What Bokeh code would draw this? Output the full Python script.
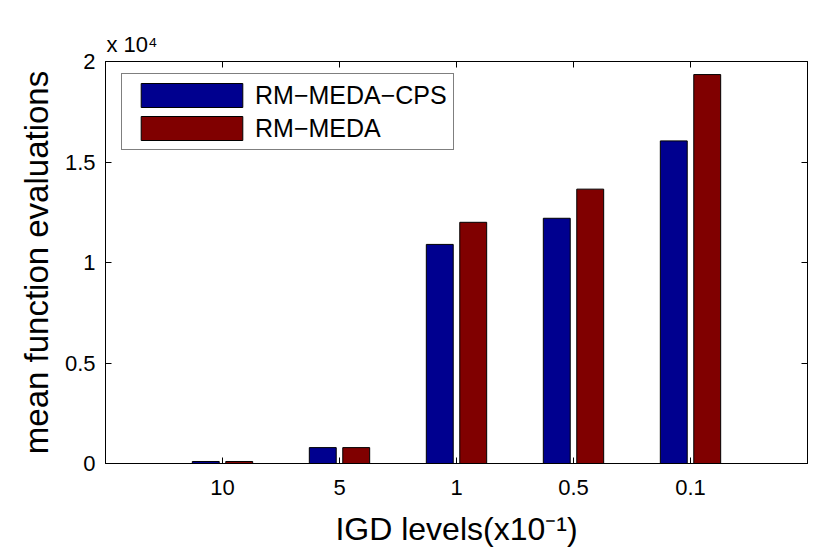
from bokeh.plotting import figure
from bokeh.models import (Range1d, FixedTicker, LinearAxis, Legend, LegendItem,
                          ColumnDataSource)
from bokeh.transform import dodge
from bokeh.embed import file_html
from bokeh.resources import INLINE

# ---- data ----
levels = ["10", "5", "1", "0.5", "0.1"]
cps_evals = [100, 790, 10900, 12200, 16050]
rm_evals = [100, 790, 12000, 13650, 19350]
y_ticks = [0, 5000, 10000, 15000, 20000]
y_tick_labels = ["0", "0.5", "1", "1.5", "2"]
series_names = ["RM\u2212MEDA\u2212CPS", "RM\u2212MEDA"]
colors = ["#00008F", "#800000"]

FONT = "Liberation Sans"
pos = list(range(1, len(levels) + 1))

src = ColumnDataSource(dict(x=pos, cps=cps_evals, rm=rm_evals))

p = figure(width=830, height=553, output_backend="svg", toolbar_location=None,
           x_range=Range1d(0, 6), y_range=Range1d(0, 20000),
           min_border_left=105, min_border_right=23, min_border_top=61,
           min_border_bottom=90)
p.background_fill_color = "white"
p.border_fill_color = "white"
p.outline_line_color = "black"
p.outline_line_width = 1
p.xgrid.visible = False
p.ygrid.visible = False

r1 = p.vbar(x=dodge("x", -0.143, range=p.x_range), top="cps", width=0.23, source=src,
            fill_color=colors[0], line_color="black", line_width=1)
r2 = p.vbar(x=dodge("x", 0.143, range=p.x_range), top="rm", width=0.23, source=src,
            fill_color=colors[1], line_color="black", line_width=1)

def style_axis(ax, ticks, overrides, show_labels=True, standoff=10):
    ax.ticker = FixedTicker(ticks=ticks)
    ax.major_tick_in = 6
    ax.major_tick_out = 0
    ax.minor_tick_in = 0
    ax.minor_tick_out = 0
    ax.axis_line_color = "black"
    ax.major_tick_line_color = "black"
    ax.major_label_standoff = standoff
    ax.major_label_text_font = FONT
    ax.major_label_text_color = "black"
    ax.axis_label_text_font = FONT
    ax.axis_label_text_font_style = "normal"
    ax.axis_label_text_color = "black"
    if show_labels:
        ax.major_label_text_font_size = "22px"
        ax.major_label_overrides = overrides
    else:
        ax.major_label_text_font_size = "0px"
        ax.major_label_overrides = {t: "" for t in ticks}

xa = p.xaxis[0]
style_axis(xa, pos, {k: v for k, v in zip(pos, levels)}, standoff=16)
xa.axis_label = "IGD levels(x10\u207b\u00b9)"
xa.axis_label_text_font_size = "32px"
xa.axis_label_standoff = 13

ya = p.yaxis[0]
style_axis(ya, y_ticks, {k: v for k, v in zip(y_ticks, y_tick_labels)}, standoff=10)
ya.axis_label = "mean function evaluations"
ya.axis_label_text_font_size = "33px"
ya.axis_label_standoff = 7

top_ax = LinearAxis()
style_axis(top_ax, pos, {}, show_labels=False, standoff=0)
p.add_layout(top_ax, "above")
right_ax = LinearAxis()
style_axis(right_ax, y_ticks, {}, show_labels=False, standoff=0)
p.add_layout(right_ax, "right")

# exponent note above the y axis
p.title.text = "x 10\u2074"
p.title.align = "left"
p.title.offset = 1
p.title.text_font = FONT
p.title.text_font_size = "22px"
p.title.text_font_style = "normal"
p.title.text_color = "black"
p.title.standoff = 10

# legend
legend = Legend(items=[LegendItem(label=series_names[0], renderers=[r1]),
                       LegendItem(label=series_names[1], renderers=[r2])],
                location=(16, 313), orientation="vertical")
legend.glyph_width = 127
legend.glyph_height = 30
legend.label_standoff = 0
legend.spacing = 3
legend.padding = 6
legend.margin = 0
legend.label_text_font = FONT
legend.label_text_font_size = "25px"
legend.label_text_color = "black"
legend.label_height = 30
legend.border_line_color = "black"
legend.border_line_width = 1
legend.background_fill_color = "white"
legend.background_fill_alpha = 1
p.add_layout(legend)

open("out.html", "w").write(file_html(p, INLINE))
